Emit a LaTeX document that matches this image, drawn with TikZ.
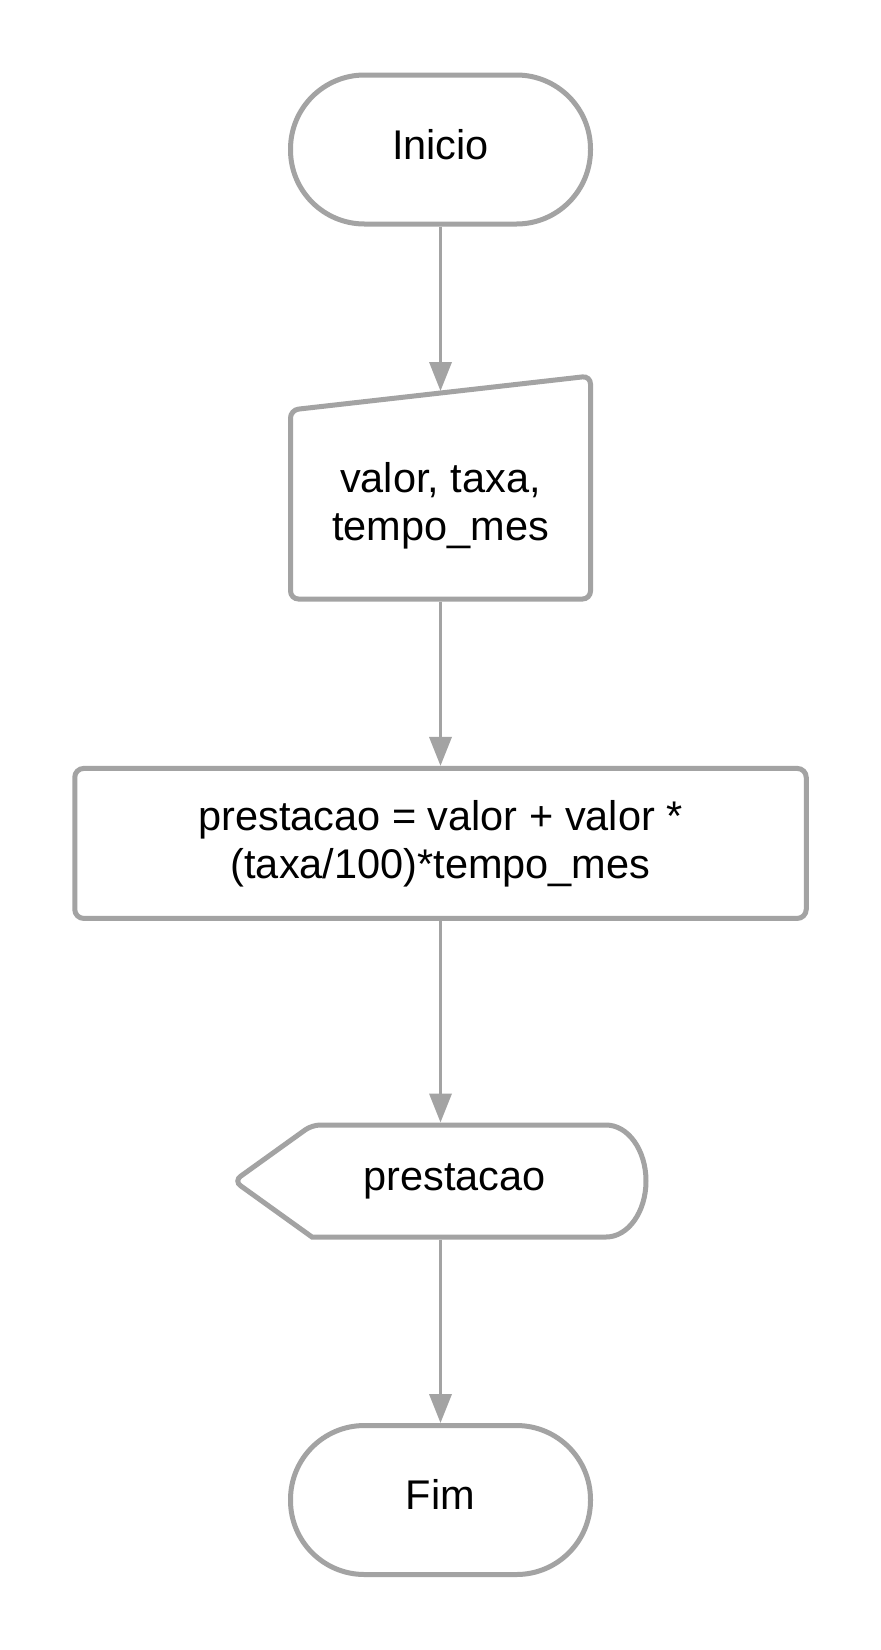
\documentclass[tikz,border=0pt]{standalone}
\usepackage{fontspec}
\setmainfont{Liberation Sans}
\usetikzlibrary{arrows.meta}
\definecolor{cinza}{RGB}{163,163,163}

\begin{document}
\begin{tikzpicture}[x=1pt, y=-1pt,
    linha/.style = {draw=cinza, line width=5pt},
    rotulo/.style = {text height=30pt, text depth=11pt},
    terminal/.style = {rectangle, linha, rounded corners=74pt, minimum width=300pt, minimum height=149pt, rotulo},
    processo/.style = {rectangle, linha, rounded corners=9pt, minimum width=731.5pt, minimum height=150pt, align=center},
    seta/.style = {draw=cinza, line width=3.5pt, -{Triangle[length=29pt, width=22pt]}},
    font=\fontsize{41.5pt}{48pt}\selectfont]
  \path [use as bounding box, fill=white] (0, 0) rectangle (881, 1650);

  % Terminals.
  \node at (440.5, 149.5) [terminal, name=Inicio] {Inicio};
  \node at (440.5, 1500) [terminal, name=Fim] {Fim};

  % Input.
  \draw [linha, rounded corners=8pt] (440.5, 599) -- (290.5, 599) -- (290.5, 410)
        -- (590.5, 376) -- (590.5, 599) -- cycle;
  \node at (440.5, 505.5) [align=center, name=Entrada] {valor, taxa,\\tempo\_mes};
  \coordinate (EntradaTopo) at (440.5, 391);
  \coordinate (EntradaBase) at (440.5, 601.5);

  % Calculation.
  \node at (440.5, 843.4) [processo, name=Calculo] {prestacao = valor + valor *\\(taxa/100)*tempo\_mes};

  % Output.
  \draw [linha] (440.5, 1125) -- (606, 1125)
        arc [start angle=-90, end angle=90, x radius=40, y radius=56]
        -- (312, 1237) [rounded corners=8pt] -- (234, 1181) -- (312, 1125) -- cycle;
  \node at (454.5, 1181) [rotulo, name=Saida] {prestacao};
  \coordinate (SaidaTopo) at (440.5, 1122.5);
  \coordinate (SaidaBase) at (440.5, 1239.5);

  % Flow.
  \draw [seta] (Inicio) -- (EntradaTopo);
  \draw [seta] (EntradaBase) -- (Calculo);
  \draw [seta] (Calculo) -- (SaidaTopo);
  \draw [seta] (SaidaBase) -- (Fim);
\end{tikzpicture}
\end{document}
